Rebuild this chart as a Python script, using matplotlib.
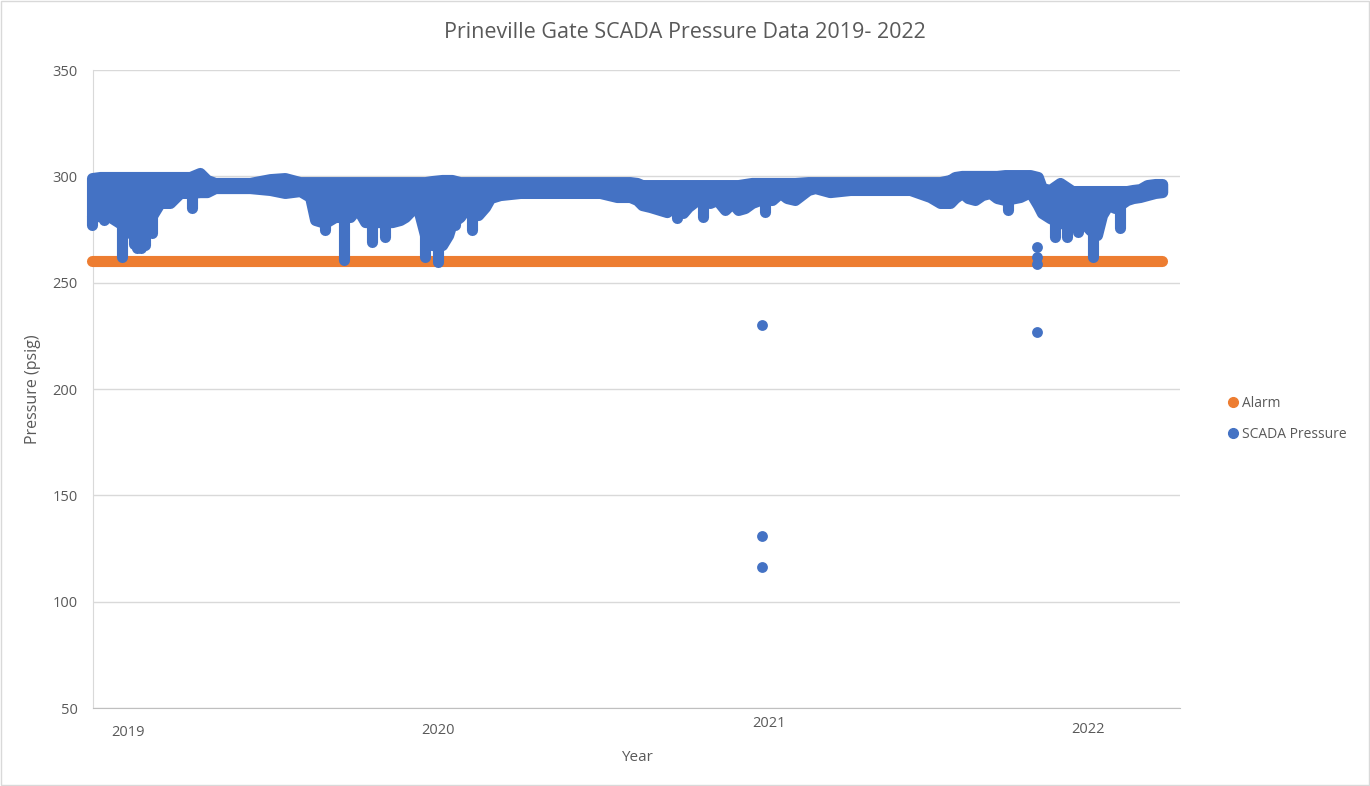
#!/usr/bin/env python3
"""Prineville Gate SCADA pressure scatter, 2019-2022."""

from __future__ import annotations

import matplotlib

matplotlib.use("Agg")
import matplotlib.pyplot as plt
import numpy as np
from matplotlib.lines import Line2D
from matplotlib.patches import Rectangle
from matplotlib.transforms import blended_transform_factory

BLUE = "#4472C4"
ORANGE = "#ED7D31"
TEXT = "#595959"
GRID = "#D9D9D9"

# decimal year of each read-off sample, with the upper / lower edge of the dense point cloud (psig)
band_t = [
    2019.000, 2019.024, 2019.054, 2019.083, 2019.113, 2019.143, 2019.173, 2019.202, 2019.232, 2019.262,
    2019.292, 2019.321, 2019.342, 2019.366, 2019.411, 2019.470, 2019.530, 2019.574, 2019.619, 2019.649,
    2019.664, 2019.693, 2019.723, 2019.768, 2019.789, 2019.813, 2019.857, 2019.893, 2019.917, 2019.932,
    2019.952, 2019.970, 2019.991, 2020.012, 2020.042, 2020.060, 2020.071, 2020.095, 2020.110, 2020.149,
    2020.170, 2020.185, 2020.214, 2020.274, 2020.363, 2020.452, 2020.512, 2020.562, 2020.601, 2020.622,
    2020.637, 2020.661, 2020.690, 2020.711, 2020.726, 2020.759, 2020.774, 2020.801, 2020.839, 2020.860,
    2020.884, 2020.905, 2020.923, 2020.943, 2020.964, 2020.988, 2021.024, 2021.048, 2021.068, 2021.092,
    2021.131, 2021.152, 2021.196, 2021.256, 2021.315, 2021.375, 2021.435, 2021.494, 2021.524, 2021.554,
    2021.568, 2021.589, 2021.607, 2021.628, 2021.649, 2021.673, 2021.693, 2021.717, 2021.762, 2021.792,
    2021.815, 2021.827, 2021.851, 2021.881, 2021.917, 2021.949, 2021.970, 2021.991, 2022.006, 2022.024,
    2022.045, 2022.080, 2022.098, 2022.119, 2022.140, 2022.164, 2022.185,
]
band_hi = [
    299.2, 299.7, 299.7, 299.7, 299.7, 299.7, 299.7, 299.7, 299.7, 299.7,
    299.7, 301.6, 298.3, 296.9, 296.9, 296.9, 298.7, 299.2, 297.3, 297.3,
    297.3, 297.3, 297.3, 297.3, 297.3, 297.3, 297.3, 297.3, 297.3, 297.3,
    297.3, 297.3, 297.3, 297.8, 298.3, 298.3, 298.3, 297.3, 297.3, 297.3,
    297.3, 297.3, 297.3, 297.3, 297.3, 297.3, 297.3, 297.3, 297.3, 296.9,
    295.9, 295.9, 295.9, 295.9, 295.9, 295.9, 295.9, 295.9, 295.9, 295.9,
    295.9, 295.9, 295.9, 296.4, 296.9, 296.9, 296.9, 296.9, 296.9, 296.9,
    297.3, 297.3, 297.3, 297.3, 297.3, 297.3, 297.3, 297.3, 297.3, 298.3,
    299.7, 300.2, 300.2, 300.2, 300.2, 300.2, 300.2, 300.6, 300.6, 300.6,
    299.7, 294.5, 293.6, 296.9, 293.1, 293.1, 293.1, 293.1, 293.1, 293.1,
    293.1, 293.1, 293.6, 294.0, 295.9, 296.4, 296.4,
]
band_lo = [
    281.3, 281.3, 280.9, 278.0, 275.0, 276.0, 280.0, 287.5, 287.5, 292.2,
    292.2, 292.6, 292.6, 294.5, 294.5, 294.5, 293.6, 292.2, 293.1, 290.3,
    279.5, 278.1, 280.9, 280.9, 285.1, 278.5, 278.5, 278.5, 279.5, 280.9,
    284.2, 285.1, 272.4, 267.7, 267.7, 272.4, 278.1, 280.9, 284.2, 281.8,
    285.6, 289.8, 291.2, 292.2, 292.2, 292.2, 292.2, 290.3, 290.3, 288.9,
    286.5, 285.6, 284.2, 283.2, 285.1, 282.8, 285.6, 288.9, 287.5, 288.9,
    284.2, 287.5, 284.2, 285.1, 287.5, 288.9, 288.9, 292.2, 289.8, 288.9,
    293.6, 294.5, 292.6, 293.6, 293.6, 293.6, 293.6, 290.3, 287.5, 287.5,
    289.8, 292.2, 289.8, 288.9, 291.2, 292.2, 289.8, 288.9, 290.3, 292.6,
    286.5, 282.8, 280.4, 278.1, 277.1, 278.5, 274.8, 272.4, 281.8, 286.5,
    285.1, 288.9, 289.8, 290.3, 291.2, 292.2, 292.6,
]

# narrow pressure dips below the cloud
dip_t = [
    2019.000, 2019.036, 2019.089, 2019.113, 2019.125, 2019.134, 2019.146, 2019.158, 2019.179, 2019.298,
    2019.693, 2019.750, 2019.833, 2019.872, 2019.991, 2020.030, 2020.057, 2020.080, 2020.131, 2020.741,
    2020.818, 2021.003, 2021.726, 2021.866, 2021.902, 2021.935, 2021.979, 2022.060,
]
dip_lo = [
    277.1, 279.5, 262.1, 273.4, 268.0, 266.3, 266.3, 267.7, 273.4, 285.1,
    274.8, 260.7, 269.1, 271.5, 262.1, 259.7, 271.5, 277.1, 274.8, 280.4,
    280.9, 283.2, 284.2, 271.5, 271.5, 273.8, 262.1, 275.7,
]

# isolated readings
outlier_t = [2020.994, 2020.994, 2020.994, 2021.812, 2021.812, 2021.812, 2021.812]
outlier_p = [230.1, 130.9, 116.3, 226.8, 267.0, 262.0, 259.0]

ALARM_PSIG = 260
year_labels = ["2019", "2020", "2021", "2022"]
year_label_t = [2019.107, 2020.030, 2021.015, 2021.964]
year_label_y = [-0.039, -0.036, -0.025, -0.034]


def plot_pressure(out_path: str = "out.png") -> None:
    plt.rcParams["font.family"] = ["Open Sans", "DejaVu Sans"]
    fig = plt.figure(figsize=(13.7, 7.86), dpi=100)
    ax = fig.add_axes([0.0679, 0.0992, 0.7934, 0.8117])

    t = np.asarray(band_t)
    lw = 8.0  # marker diameter in points

    ax.hlines(ALARM_PSIG, t[0], t[-1], color=ORANGE, linewidth=lw, capstyle="round", zorder=3, clip_on=False)
    ax.fill_between(t, band_lo, band_hi, facecolor=BLUE, edgecolor=BLUE, linewidth=lw,
                    joinstyle="round", zorder=4, clip_on=False)
    dip_top = np.interp(dip_t, t, band_lo)
    ax.vlines(dip_t, dip_lo, dip_top, color=BLUE, linewidth=lw, capstyle="round", zorder=4, clip_on=False)
    ax.scatter(outlier_t, outlier_p, s=lw ** 2 * 0.95, color=BLUE, linewidths=0, zorder=5)

    ax.set_xlim(2019.003, 2022.238)
    ax.set_ylim(50, 350)
    ax.set_yticks(range(50, 351, 50))
    ax.set_xticks([])
    ax.grid(axis="y", color=GRID, linewidth=1.0)
    ax.set_axisbelow(True)
    for side in ("top", "right"):
        ax.spines[side].set_visible(False)
    ax.spines["left"].set_color(GRID)
    ax.spines["bottom"].set_color("#BFBFBF")
    ax.tick_params(axis="y", length=0, pad=11, labelsize=10.5, labelcolor=TEXT)

    trans = blended_transform_factory(ax.transData, ax.transAxes)
    for label, x, y in zip(year_labels, year_label_t, year_label_y):
        ax.text(x, y, label, transform=trans, ha="center", va="center", fontsize=10.5, color=TEXT)

    ax.set_ylabel("Pressure (psig)", fontsize=11.5, color=TEXT, labelpad=8)
    ax.text(0.5, -0.077, "Year", transform=ax.transAxes, ha="center", va="center", fontsize=11, color=TEXT)
    fig.text(0.5, 0.959, "Prineville Gate SCADA Pressure Data 2019- 2022", ha="center", va="center",
             fontsize=15.5, color=TEXT)

    handles = [
        Line2D([], [], linestyle="none", marker="o", markersize=7, color=ORANGE),
        Line2D([], [], linestyle="none", marker="o", markersize=7, color=BLUE),
    ]
    fig.legend(handles, ["Alarm", "SCADA Pressure"], loc="center left", bbox_to_anchor=(0.893, 0.467),
               frameon=False, fontsize=10, labelcolor=TEXT, handlelength=0.6, handletextpad=0.35,
               labelspacing=1.15, borderaxespad=0)

    fig.patches.append(Rectangle((0.001, 0.001), 0.998, 0.998, transform=fig.transFigure,
                                 fill=False, edgecolor=GRID, linewidth=1.0))
    fig.savefig(out_path, dpi=100)
    plt.close(fig)


if __name__ == "__main__":
    plot_pressure()
